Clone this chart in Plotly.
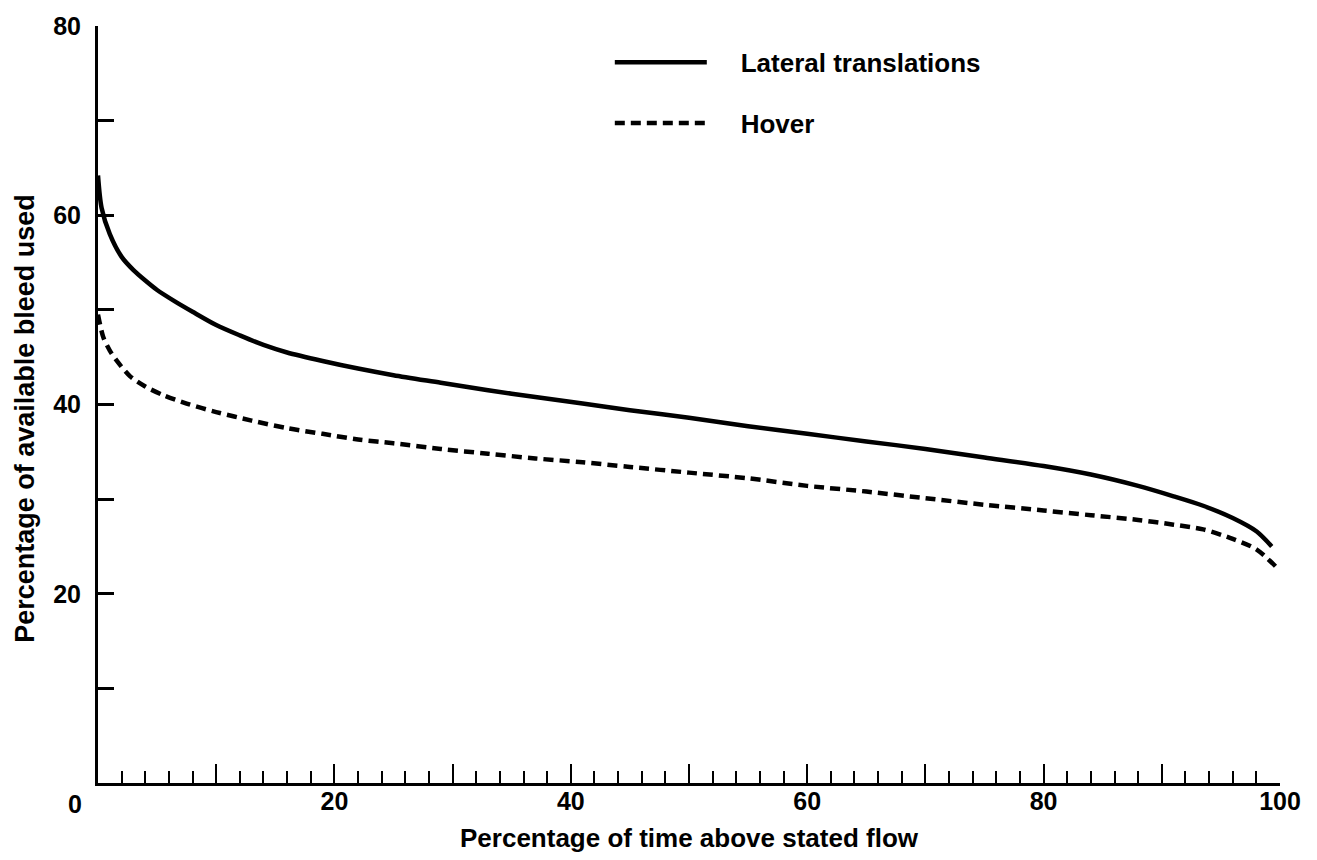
import plotly.graph_objects as go

# Percentage of time above stated flow (x) vs percentage of available bleed used (y)
lateral_x = [0, 0.3, 1, 2, 3, 4, 5, 6.5, 8, 10, 12, 14, 16, 19, 22, 25, 29, 33, 37, 41, 45,
             50, 55, 60, 65, 70, 75, 80, 84, 88, 91, 93.5, 96, 98, 99.3]
lateral_y = [64.2, 60.8, 58.0, 55.6, 54.2, 53.1, 52.1, 50.9, 49.8, 48.4, 47.3, 46.3, 45.5, 44.6,
             43.8, 43.1, 42.3, 41.5, 40.8, 40.1, 39.4, 38.6, 37.7, 36.9, 36.1, 35.3, 34.4, 33.5,
             32.6, 31.4, 30.3, 29.3, 28.0, 26.6, 25.0]

hover_x = [0, 0.45, 1, 1.6, 2.7, 4, 5.5, 7.5, 10, 13, 16, 19, 22, 25, 29, 33, 37, 41, 45,
           50, 55, 60, 65, 70, 75, 80, 84, 88, 91, 93.5, 96, 98, 99.7]
hover_y = [49.5, 47.1, 45.7, 44.6, 43.0, 41.9, 41.0, 40.1, 39.2, 38.3, 37.5, 36.9, 36.3, 35.9,
           35.3, 34.8, 34.3, 33.9, 33.4, 32.8, 32.2, 31.4, 30.8, 30.1, 29.4, 28.8, 28.3, 27.8,
           27.3, 26.8, 25.8, 24.7, 22.8]

x_tick_vals = [0, 10, 20, 30, 40, 50, 60, 70, 80, 90, 100]
x_tick_text = ["", "", "20", "", "40", "", "60", "", "80", "", "100"]
y_tick_vals = [10, 20, 30, 40, 50, 60, 70, 80]
y_tick_text = ["", "20", "", "40", "", "60", "", "80"]

FONT = "Liberation Sans, Arial, sans-serif"
PAD = "\u00a0" * 4

fig = go.Figure()
fig.add_trace(go.Scatter(
    x=lateral_x, y=lateral_y, mode="lines", name=PAD + "Lateral translations",
    legendgroup="a",
    line=dict(color="black", width=4.5, shape="spline", smoothing=0.8),
))
fig.add_trace(go.Scatter(
    x=hover_x, y=hover_y, mode="lines", name=PAD + "Hover",
    legendgroup="b",
    line=dict(color="black", width=4.5, dash="10px,6px", shape="spline", smoothing=0.8),
))

# lone "0" at the origin, set just left of the corner
fig.add_annotation(x=0, y=0, xref="x", yref="y", text="0", showarrow=False,
                   xanchor="center", yanchor="top", xshift=-23, yshift=-5,
                   font=dict(family=FONT, size=25, color="black", weight="bold"))

# vertical axis title
fig.add_annotation(x=-0.062, y=0.482, xref="paper", yref="paper",
                   text="Percentage of available bleed used", showarrow=False,
                   textangle=-90, xanchor="center", yanchor="middle",
                   font=dict(family=FONT, size=27, color="black", weight="bold"))

# horizontal axis title
fig.add_annotation(x=0.5, y=0, xref="paper", yref="paper",
                   text="Percentage of time above stated flow", showarrow=False,
                   xanchor="center", yanchor="middle", yshift=-55,
                   font=dict(family=FONT, size=26, color="black", weight="bold"))

fig.update_layout(
    width=1317, height=860,
    margin=dict(l=98, r=37, t=19, b=77),
    paper_bgcolor="white", plot_bgcolor="white",
    font=dict(family=FONT, size=26, color="black", weight="bold"),
    showlegend=True,
    legend=dict(x=0.433, y=0.983, xanchor="left", yanchor="top",
                bgcolor="rgba(0,0,0,0)", itemwidth=92, tracegroupgap=24,
                traceorder="grouped",
                font=dict(family=FONT, size=26, color="black", weight="bold")),
    xaxis=dict(
        range=[0, 100], showgrid=False, zeroline=False,
        showline=True, linecolor="black", linewidth=3,
        ticks="inside", ticklen=19, tickwidth=2, tickcolor="black",
        tickmode="array", tickvals=x_tick_vals, ticktext=x_tick_text,
        ticklabelstandoff=-6,
        tickfont=dict(family=FONT, size=25, color="black", weight="bold"),
        minor=dict(dtick=2, ticks="inside", ticklen=12, tickwidth=2, tickcolor="black", showgrid=False),
    ),
    yaxis=dict(
        range=[0, 80], showgrid=False, zeroline=False,
        showline=True, linecolor="black", linewidth=3,
        ticks="inside", ticklen=16, tickwidth=3, tickcolor="black",
        tickmode="array", tickvals=y_tick_vals, ticktext=y_tick_text,
        ticklabelstandoff=9,
        tickfont=dict(family=FONT, size=25, color="black", weight="bold"),
    ),
)

fig.write_html("out.html")
